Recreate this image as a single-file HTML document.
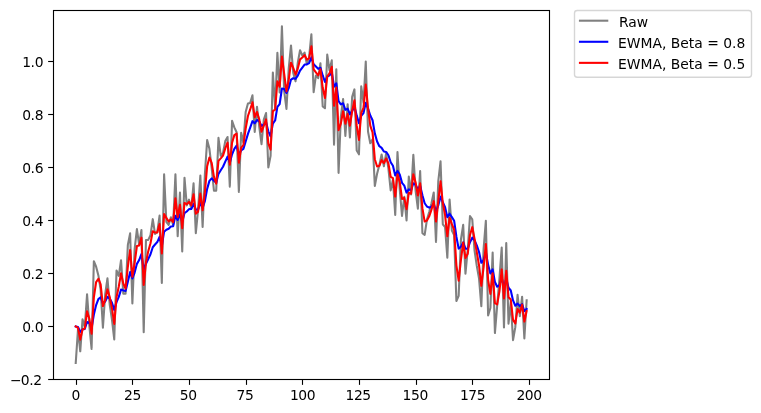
<!DOCTYPE html>
<html><head><meta charset="utf-8"><title>EWMA</title>
<style>html,body{margin:0;padding:0;background:#fff;}body{width:761px;height:413px;overflow:hidden}</style></head>
<body>
<svg width="761" height="413" viewBox="0 0 761 413" style="display:block;will-change:transform">
<rect x="0" y="0" width="761" height="413" fill="#ffffff"/>
<defs><clipPath id="ax"><rect x="53.5" y="10.5" width="496.0" height="369.0"/></clipPath></defs>
<g clip-path="url(#ax)" fill="none" stroke-width="2.083" stroke-linejoin="round" stroke-linecap="square">
<path d="M75.73 362.98 L78.00 329.31 L80.26 351.31 L82.53 319.32 L84.79 327.26 L87.06 294.26 L89.33 325.64 L91.59 348.89 L93.86 261.17 L96.12 266.71 L98.39 275.40 L100.65 289.83 L102.92 327.78 L105.19 294.26 L107.45 278.36 L109.72 304.61 L111.98 319.77 L114.25 339.48 L116.52 270.46 L118.78 275.88 L121.05 260.27 L123.31 293.69 L125.58 293.66 L127.85 244.90 L130.11 233.37 L132.38 303.55 L134.64 249.05 L136.91 229.15 L139.17 244.78 L141.44 229.96 L143.71 332.24 L145.97 239.98 L148.24 239.85 L150.50 235.23 L152.77 219.17 L155.04 233.90 L157.30 232.20 L159.57 215.65 L161.83 282.97 L164.10 174.41 L166.36 221.79 L168.63 225.00 L170.90 217.30 L173.16 224.98 L175.43 174.39 L177.69 236.25 L179.96 192.45 L182.23 251.58 L184.49 177.70 L186.76 205.42 L189.02 199.69 L191.29 208.77 L193.56 183.23 L195.82 233.10 L198.09 209.57 L200.35 175.54 L202.62 226.97 L204.88 174.52 L207.15 140.12 L209.42 148.81 L211.68 168.18 L213.95 190.74 L216.21 190.74 L218.48 137.91 L220.75 155.82 L223.01 152.83 L225.28 141.09 L227.54 136.97 L229.81 186.63 L232.08 120.82 L234.34 127.42 L236.61 132.20 L238.87 191.89 L241.14 132.77 L243.40 142.50 L245.67 111.99 L247.94 103.45 L250.20 102.90 L252.47 95.20 L254.73 131.84 L257.00 106.84 L259.27 126.78 L261.53 144.13 L263.80 119.58 L266.06 113.05 L268.33 167.53 L270.59 155.91 L272.86 72.61 L275.13 108.29 L277.39 52.73 L279.66 92.34 L281.92 26.34 L284.19 91.12 L286.46 108.93 L288.72 68.55 L290.99 45.43 L293.25 72.95 L295.52 81.34 L297.79 62.63 L300.05 50.21 L302.32 55.57 L304.58 52.69 L306.85 64.17 L309.11 57.18 L311.38 34.26 L313.65 92.20 L315.91 75.45 L318.18 78.20 L320.44 63.24 L322.71 106.38 L324.98 108.27 L327.24 54.63 L329.51 70.25 L331.77 60.39 L334.04 144.65 L336.31 69.33 L338.57 172.84 L340.84 116.99 L343.10 98.97 L345.37 136.00 L347.63 104.17 L349.90 137.46 L352.17 96.87 L354.43 89.39 L356.70 150.58 L358.96 154.33 L361.23 86.31 L363.50 102.49 L365.76 61.52 L368.03 131.62 L370.29 143.20 L372.56 139.24 L374.82 185.96 L377.09 173.68 L379.36 165.07 L381.62 154.50 L383.89 166.29 L386.15 153.51 L388.42 168.62 L390.69 190.35 L392.95 179.46 L395.22 214.92 L397.48 152.13 L399.75 189.60 L402.02 215.95 L404.28 196.77 L406.55 220.36 L408.81 176.53 L411.08 194.42 L413.34 154.82 L415.61 190.83 L417.88 208.60 L420.14 171.07 L422.41 233.07 L424.67 234.92 L426.94 219.58 L429.21 212.00 L431.47 203.26 L433.74 192.51 L436.00 241.88 L438.27 181.46 L440.54 161.30 L442.80 224.27 L445.07 227.06 L447.33 257.70 L449.60 199.51 L451.86 230.50 L454.13 235.16 L456.40 300.97 L458.66 295.91 L460.93 239.36 L463.19 224.90 L465.46 273.60 L467.73 249.54 L469.99 216.14 L472.26 219.38 L474.52 250.38 L476.79 265.76 L479.05 278.57 L481.32 306.12 L483.59 249.16 L485.85 220.78 L488.12 315.51 L490.38 307.95 L492.65 252.57 L494.92 333.04 L497.18 305.62 L499.45 278.32 L501.71 247.49 L503.98 327.44 L506.25 243.15 L508.51 323.63 L510.78 301.85 L513.04 340.18 L515.31 327.18 L517.57 294.77 L519.84 316.16 L522.11 296.69 L524.37 338.50 L526.64 300.34" stroke="#808080"/>
<path d="M75.73 326.50 L78.00 327.06 L80.26 331.91 L82.53 329.39 L84.79 328.97 L87.06 322.02 L89.33 322.75 L91.59 327.98 L93.86 314.62 L96.12 305.03 L98.39 299.11 L100.65 297.25 L102.92 303.36 L105.19 301.54 L107.45 296.90 L109.72 298.44 L111.98 302.71 L114.25 310.06 L116.52 302.14 L118.78 296.89 L121.05 289.57 L123.31 290.39 L125.58 291.05 L127.85 281.82 L130.11 272.13 L132.38 278.41 L134.64 272.54 L136.91 263.86 L139.17 260.05 L141.44 254.03 L143.71 269.67 L145.97 263.73 L148.24 258.96 L150.50 254.21 L152.77 247.20 L155.04 244.54 L157.30 242.07 L159.57 236.79 L161.83 246.03 L164.10 231.70 L166.36 229.72 L168.63 228.78 L170.90 226.48 L173.16 226.18 L175.43 215.82 L177.69 219.91 L179.96 214.42 L182.23 221.85 L184.49 213.02 L186.76 211.50 L189.02 209.14 L191.29 209.06 L193.56 203.90 L195.82 209.74 L198.09 209.70 L200.35 202.87 L202.62 207.69 L204.88 201.06 L207.15 188.87 L209.42 180.86 L211.68 178.32 L213.95 180.81 L216.21 182.79 L218.48 173.82 L220.75 170.22 L223.01 166.74 L225.28 161.61 L227.54 156.68 L229.81 162.67 L232.08 154.30 L234.34 148.93 L236.61 145.58 L238.87 154.84 L241.14 150.43 L243.40 148.84 L245.67 141.47 L247.94 133.87 L250.20 127.67 L252.47 121.18 L254.73 123.31 L257.00 120.02 L259.27 121.37 L261.53 125.92 L263.80 124.65 L266.06 122.33 L268.33 131.37 L270.59 136.28 L272.86 123.55 L275.13 120.49 L277.39 106.94 L279.66 104.02 L281.92 88.48 L284.19 89.01 L286.46 93.00 L288.72 88.11 L290.99 79.57 L293.25 78.25 L295.52 78.86 L297.79 75.62 L300.05 70.54 L302.32 67.54 L304.58 64.57 L306.85 64.49 L309.11 63.03 L311.38 57.28 L313.65 64.26 L315.91 66.50 L318.18 68.84 L320.44 67.72 L322.71 75.45 L324.98 82.02 L327.24 76.54 L329.51 75.28 L331.77 72.30 L334.04 86.77 L336.31 83.28 L338.57 101.19 L340.84 104.35 L343.10 103.28 L345.37 109.82 L347.63 108.69 L349.90 114.44 L352.17 110.93 L354.43 106.62 L356.70 115.41 L358.96 123.20 L361.23 115.82 L363.50 113.15 L365.76 102.83 L368.03 108.58 L370.29 115.51 L372.56 120.26 L374.82 133.40 L377.09 141.45 L379.36 146.18 L381.62 147.84 L383.89 151.53 L386.15 151.93 L388.42 155.26 L390.69 162.28 L392.95 165.72 L395.22 175.56 L397.48 170.87 L399.75 174.62 L402.02 182.88 L404.28 185.66 L406.55 192.60 L408.81 189.39 L411.08 190.39 L413.34 183.28 L415.61 184.79 L417.88 189.55 L420.14 185.86 L422.41 195.30 L424.67 203.22 L426.94 206.49 L429.21 207.60 L431.47 206.73 L433.74 203.89 L436.00 211.48 L438.27 205.48 L440.54 196.64 L442.80 202.17 L445.07 207.15 L447.33 217.26 L449.60 213.71 L451.86 217.07 L454.13 220.69 L456.40 236.74 L458.66 248.58 L460.93 246.73 L463.19 242.36 L465.46 248.61 L467.73 248.80 L469.99 242.27 L472.26 237.69 L474.52 240.23 L476.79 245.33 L479.05 251.98 L481.32 262.81 L483.59 260.08 L485.85 252.22 L488.12 264.88 L490.38 273.49 L492.65 269.31 L494.92 282.05 L497.18 286.77 L499.45 285.08 L501.71 277.56 L503.98 287.54 L506.25 278.66 L508.51 287.65 L510.78 290.49 L513.04 300.43 L515.31 305.78 L517.57 303.58 L519.84 306.09 L522.11 304.21 L524.37 311.07 L526.64 308.92" stroke="#0000ff"/>
<path d="M75.73 326.50 L78.00 327.91 L80.26 339.61 L82.53 329.46 L84.79 328.36 L87.06 311.31 L89.33 318.47 L91.59 333.68 L93.86 297.43 L96.12 282.07 L98.39 278.73 L100.65 284.28 L102.92 306.03 L105.19 300.15 L107.45 289.25 L109.72 296.93 L111.98 308.35 L114.25 323.91 L116.52 297.19 L118.78 286.53 L121.05 273.40 L123.31 283.55 L125.58 288.61 L127.85 266.75 L130.11 250.06 L132.38 276.81 L134.64 262.93 L136.91 246.04 L139.17 245.41 L141.44 237.68 L143.71 284.96 L145.97 262.47 L148.24 251.16 L150.50 243.20 L152.77 231.18 L155.04 232.54 L157.30 232.37 L159.57 224.01 L161.83 253.49 L164.10 213.95 L166.36 217.87 L168.63 221.44 L170.90 219.37 L173.16 222.17 L175.43 198.28 L177.69 217.27 L179.96 204.86 L182.23 228.22 L184.49 202.96 L186.76 204.19 L189.02 201.94 L191.29 205.36 L193.56 194.29 L195.82 213.70 L198.09 211.63 L200.35 193.59 L202.62 210.28 L204.88 192.40 L207.15 166.26 L209.42 157.53 L211.68 162.86 L213.95 176.80 L216.21 183.77 L218.48 160.84 L220.75 158.33 L223.01 155.58 L225.28 148.34 L227.54 142.65 L229.81 164.64 L232.08 142.73 L234.34 135.08 L236.61 133.64 L238.87 162.77 L241.14 147.77 L243.40 145.14 L245.67 128.56 L247.94 116.00 L250.20 109.45 L252.47 102.33 L254.73 117.09 L257.00 111.96 L259.27 119.37 L261.53 131.75 L263.80 125.66 L266.06 119.36 L268.33 143.45 L270.59 149.68 L272.86 111.14 L275.13 109.71 L277.39 81.22 L279.66 86.78 L281.92 56.56 L284.19 73.84 L286.46 91.39 L288.72 79.97 L290.99 62.70 L293.25 67.82 L295.52 74.58 L297.79 68.61 L300.05 59.41 L302.32 57.49 L304.58 55.09 L306.85 59.63 L309.11 58.41 L311.38 46.33 L313.65 69.27 L315.91 72.36 L318.18 75.28 L320.44 69.26 L322.71 87.82 L324.98 98.05 L327.24 76.34 L329.51 73.30 L331.77 66.84 L334.04 105.75 L336.31 87.54 L338.57 130.19 L340.84 123.59 L343.10 111.28 L345.37 123.64 L347.63 113.90 L349.90 125.68 L352.17 111.28 L354.43 100.33 L356.70 125.45 L358.96 139.89 L361.23 113.10 L363.50 107.80 L365.76 84.66 L368.03 108.14 L370.29 125.67 L372.56 132.46 L374.82 159.21 L377.09 166.44 L379.36 165.75 L381.62 160.13 L383.89 163.21 L386.15 158.36 L388.42 163.49 L390.69 176.92 L392.95 178.19 L395.22 196.55 L397.48 174.34 L399.75 181.97 L402.02 198.96 L404.28 197.87 L406.55 209.12 L408.81 192.82 L411.08 193.62 L413.34 174.22 L415.61 182.53 L417.88 195.56 L420.14 183.32 L422.41 208.19 L424.67 221.56 L426.94 220.57 L429.21 216.29 L431.47 209.77 L433.74 201.14 L436.00 221.51 L438.27 201.48 L440.54 181.39 L442.80 202.83 L445.07 214.95 L447.33 236.32 L449.60 217.92 L451.86 224.21 L454.13 229.68 L456.40 265.33 L458.66 280.62 L460.93 259.99 L463.19 242.44 L465.46 258.02 L467.73 253.78 L469.99 234.96 L472.26 227.17 L474.52 238.78 L476.79 252.27 L479.05 265.42 L481.32 285.77 L483.59 267.47 L485.85 244.12 L488.12 279.81 L490.38 293.88 L492.65 273.23 L494.92 303.14 L497.18 304.38 L499.45 291.35 L501.71 269.42 L503.98 298.43 L506.25 270.79 L508.51 297.21 L510.78 299.53 L513.04 319.85 L515.31 323.51 L517.57 309.14 L519.84 312.65 L522.11 304.67 L524.37 321.59 L526.64 310.96" stroke="#ff0000"/>
</g>
<g stroke="#000000" stroke-width="1.11" fill="none">
<line x1="76.5" y1="379.5" x2="76.5" y2="384.86"/>
<line x1="132.5" y1="379.5" x2="132.5" y2="384.86"/>
<line x1="189.5" y1="379.5" x2="189.5" y2="384.86"/>
<line x1="246.5" y1="379.5" x2="246.5" y2="384.86"/>
<line x1="302.5" y1="379.5" x2="302.5" y2="384.86"/>
<line x1="359.5" y1="379.5" x2="359.5" y2="384.86"/>
<line x1="416.5" y1="379.5" x2="416.5" y2="384.86"/>
<line x1="472.5" y1="379.5" x2="472.5" y2="384.86"/>
<line x1="529.5" y1="379.5" x2="529.5" y2="384.86"/>
<line x1="53.5" y1="379.5" x2="48.14" y2="379.5"/>
<line x1="53.5" y1="326.5" x2="48.14" y2="326.5"/>
<line x1="53.5" y1="273.5" x2="48.14" y2="273.5"/>
<line x1="53.5" y1="220.5" x2="48.14" y2="220.5"/>
<line x1="53.5" y1="167.5" x2="48.14" y2="167.5"/>
<line x1="53.5" y1="114.5" x2="48.14" y2="114.5"/>
<line x1="53.5" y1="61.5" x2="48.14" y2="61.5"/>
<rect x="53.5" y="10.5" width="496.0" height="369.0"/>
</g>
<g font-family='"DejaVu Sans","Liberation Sans",sans-serif' font-size="13.89" fill="#000000">
<text x="71.60" y="399.72">0</text>
<text x="124.10 132.50" y="399.72">25</text>
<text x="179.80 188.20" y="399.72">50</text>
<text x="236.60 245.00" y="399.72">75</text>
<text x="289.90 298.30 306.70" y="399.72">100</text>
<text x="345.50 353.90 362.30" y="399.72">125</text>
<text x="402.60 411.00 419.40" y="399.72">150</text>
<text x="459.90 468.30 476.70" y="399.72">175</text>
<text x="516.40 524.80 533.20" y="399.72">200</text>
<text x="10.05 20.75 29.15 33.35" y="384.60">−0.2</text>
<text x="22.14 30.54 34.74" y="331.60">0.0</text>
<text x="22.14 30.54 34.74" y="278.60">0.2</text>
<text x="22.14 30.54 34.74" y="225.60">0.4</text>
<text x="22.14 30.54 34.74" y="172.60">0.6</text>
<text x="22.14 30.54 34.74" y="119.60">0.8</text>
<text x="22.14 30.54 34.74" y="66.60">1.0</text>
<rect x="574.5" y="10.5" width="177.0" height="66.8" rx="2.8" ry="2.8" fill="#ffffff" fill-opacity="0.8" stroke="#cccccc" stroke-opacity="0.8" stroke-width="1.39"/>
<line x1="579.96" y1="20.70" x2="607.26" y2="20.70" stroke="#808080" stroke-width="2.083" stroke-linecap="square"/>
<text x="618.94" y="26.90">Raw</text>
<line x1="579.96" y1="41.78" x2="607.26" y2="41.78" stroke="#0000ff" stroke-width="2.083" stroke-linecap="square"/>
<text x="618.04" y="47.98">EWMA, Beta = 0.8</text>
<line x1="579.96" y1="62.86" x2="607.26" y2="62.86" stroke="#ff0000" stroke-width="2.083" stroke-linecap="square"/>
<text x="618.04" y="69.06">EWMA, Beta = 0.5</text>
</g>
</svg>
</body></html>
